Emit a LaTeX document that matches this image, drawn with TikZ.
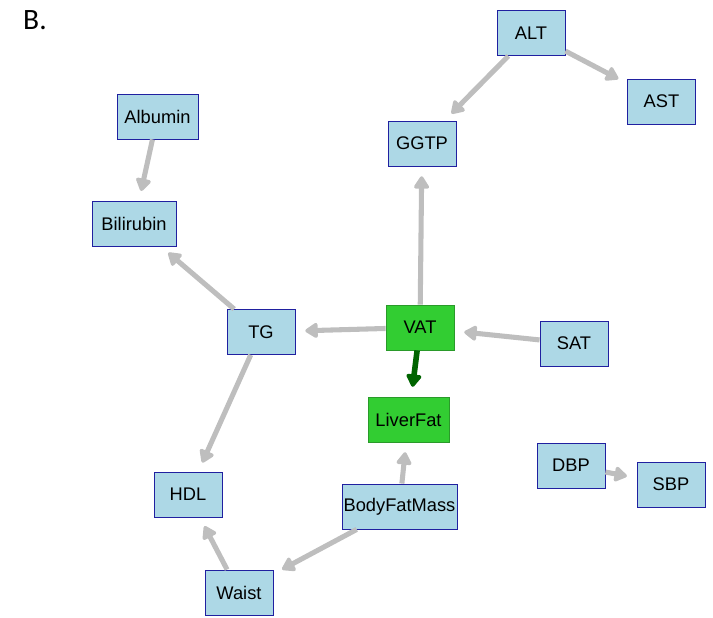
\documentclass[tikz,border=0pt]{standalone}
\usepackage{fontspec}
\setmainfont{Liberation Sans}
\newfontfamily\panelfont{Carlito}
\usepackage{xcolor}
\usetikzlibrary{arrows.meta}
\definecolor{boxblue}{HTML}{ADD8E6}
\definecolor{boxline}{HTML}{2020A0}
\definecolor{vargreen}{HTML}{32CD32}
\definecolor{varline}{HTML}{2A9A2A}
\definecolor{edgegray}{HTML}{BEBEBE}
\definecolor{edgegreen}{HTML}{006400}

\begin{document}
\begin{tikzpicture}[x=0.025cm, y=-0.025cm,
  var/.style={draw=boxline, fill=boxblue, line width=0.6pt, minimum width=1.7cm,
    minimum height=1.125cm, inner xsep=1pt, font=\fontsize{13}{15}\selectfont},
  focus/.style={var, draw=varline, fill=vargreen},
  edge/.style={draw=edgegray, line width=3.6pt, shorten >=7pt,
    -{Triangle[length=10pt, width=12pt, round]}},
  keyedge/.style={edge, draw=edgegreen, line width=4pt}]
\useasboundingbox (0,0) rectangle (713,618);
\node[font=\panelfont\fontsize{21}{25}\selectfont] (panel) at (35,20) {B.};
% nodes
\node[var] (ALT) at (531,33) {ALT};
\node[var] (AST) at (661.5,101.5) {AST};
\node[var] (GGTP) at (422,143.5) {GGTP};
\node[var, minimum width=2.025cm] (Albumin) at (157.5,116.5) {Albumin};
\node[var, minimum width=2.1cm] (Bilirubin) at (134,223.5) {Bilirubin};
\node[var] (TG) at (261,332) {TG};
\node[focus] (VAT) at (420,327.5) {VAT};
\node[var] (SAT) at (574,343.5) {SAT};
\node[focus, minimum width=2.025cm] (LiverFat) at (408.5,419.5) {LiverFat};
\node[var] (DBP) at (571,465.5) {DBP};
\node[var] (SBP) at (671,484.5) {SBP};
\node[var] (HDL) at (188,494.5) {HDL};
\node[var, minimum width=2.875cm] (BodyFatMass) at (399.5,506.5) {BodyFatMass};
\node[var] (Waist) at (239,592.5) {Waist};
% edges
\draw[edge] (ALT) -- (GGTP);
\draw[edge] (ALT) -- (AST);
\draw[edge] (Albumin) -- (Bilirubin);
\draw[edge] (TG) -- (Bilirubin);
\draw[edge] (TG) -- (HDL);
\draw[edge] (VAT) -- (TG);
\draw[edge] (VAT) -- (GGTP);
\draw[edge] (SAT) -- (VAT);
\draw[keyedge] (VAT) -- (LiverFat);
\draw[edge] (BodyFatMass) -- (LiverFat);
\draw[edge] (BodyFatMass) -- (Waist);
\draw[edge] (Waist) -- (HDL);
\draw[edge] (DBP) -- (SBP);
\end{tikzpicture}
\end{document}
